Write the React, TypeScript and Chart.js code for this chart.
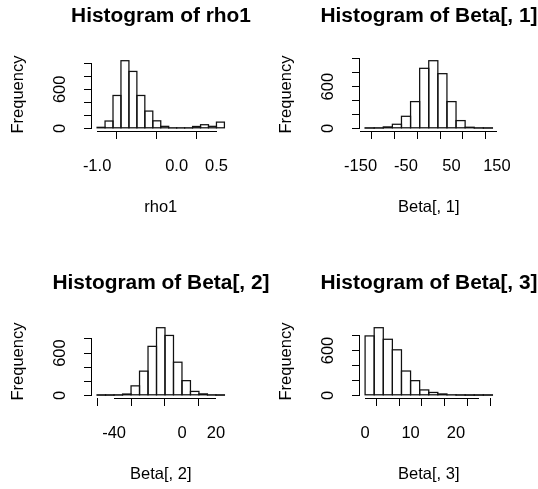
import React, { useEffect, useRef } from 'react';
import { Chart, registerables } from 'chart.js';

Chart.register(...registerables);

const FONT = "'Liberation Sans', Arial, sans-serif";

// ---- Data ----
const rho1Breaks = [-1.0, -0.9, -0.8, -0.7, -0.6, -0.5, -0.4, -0.3, -0.2, -0.1, 0.0, 0.1, 0.2, 0.3, 0.4, 0.5, 0.6];
const rho1Counts = [15, 112, 505, 1040, 875, 505, 265, 115, 30, 5, 5, 5, 28, 55, 30, 95];
const rho1Ticks = [-1.0, -0.5, 0.0, 0.5];
const rho1TickLabels = ['-1.0', '', '0.0', '0.5'];

const beta1Breaks = [-140, -120, -100, -80, -60, -40, -20, 0, 20, 40, 60, 80, 100, 120, 140];
const beta1Counts = [2, 3, 20, 58, 173, 385, 865, 975, 788, 385, 111, 15, 3, 2];
const beta1Ticks = [-150, -100, -50, 0, 50, 100, 150];
const beta1TickLabels = ['-150', '', '-50', '', '50', '', '150'];

const beta2Breaks = [-50, -45, -40, -35, -30, -25, -20, -15, -10, -5, 0, 5, 10, 15, 20, 25];
const beta2Counts = [1, 1, 3, 18, 134, 343, 695, 960, 850, 470, 208, 55, 20, 3, 1];
const beta2Ticks = [-40, -20, 0, 20];
const beta2TickLabels = ['-40', '', '0', '20'];

const beta3Breaks = [0, 2, 4, 6, 8, 10, 12, 14, 16, 18, 20, 22, 24, 26, 28];
const beta3Counts = [795, 905, 750, 609, 325, 196, 72, 38, 18, 5, 2, 1, 1, 1];
const beta3Ticks = [0, 5, 10, 15, 20, 25];
const beta3TickLabels = ['0', '', '10', '', '20', ''];

const freqTicks = [0, 200, 400, 600, 800, 1000];
const freqTickLabels = ['0', '', '', '600', '', ''];

const titles = ['Histogram of rho1', 'Histogram of Beta[, 1]', 'Histogram of Beta[, 2]', 'Histogram of Beta[, 3]'];
const xLabels = ['rho1', 'Beta[, 1]', 'Beta[, 2]', 'Beta[, 3]'];
const yLabel = 'Frequency';

type Spec = {
  breaks: number[];
  counts: number[];
  ticks: number[];
  tickLabels: string[];
  title: string;
  xlabel: string;
};

const specs: Spec[] = [
  { breaks: rho1Breaks, counts: rho1Counts, ticks: rho1Ticks, tickLabels: rho1TickLabels, title: titles[0], xlabel: xLabels[0] },
  { breaks: beta1Breaks, counts: beta1Counts, ticks: beta1Ticks, tickLabels: beta1TickLabels, title: titles[1], xlabel: xLabels[1] },
  { breaks: beta2Breaks, counts: beta2Counts, ticks: beta2Ticks, tickLabels: beta2TickLabels, title: titles[2], xlabel: xLabels[2] },
  { breaks: beta3Breaks, counts: beta3Counts, ticks: beta3Ticks, tickLabels: beta3TickLabels, title: titles[3], xlabel: xLabels[3] },
];

const CW = 322;
const CH = 267;
const INK = '#000';

// R-style outlines: each bar rectangle stroked on its edges (geometry from Chart.js bar elements)
const barOutlines = {
  id: 'barOutlines',
  afterDatasetsDraw(chart: any) {
    const meta = chart.getDatasetMeta(0);
    const ctx = chart.ctx;
    ctx.save();
    ctx.strokeStyle = '#111';
    ctx.lineWidth = 1.25;
    ctx.lineJoin = 'miter';
    for (const el of meta.data) {
      const { x, y, base, width } = el.getProps(['x', 'y', 'base', 'width'], true);
      ctx.strokeRect(x - width / 2, Math.min(y, base), width, Math.abs(base - y));
    }
    ctx.restore();
  },
};

// R-style axis lines: from first to last tick only
const rAxisLines = {
  id: 'rAxisLines',
  afterDraw(chart: any) {
    const { ctx, chartArea } = chart;
    const x = chart.scales.x;
    const y = chart.scales.y;
    ctx.save();
    ctx.strokeStyle = INK;
    ctx.lineWidth = 1;
    ctx.lineCap = 'square';
    ctx.beginPath();
    const xb = Math.round(chartArea.bottom) + 0.5;
    ctx.moveTo(Math.round(x.getPixelForValue(x.ticks[0].value) - 0.5) + 0.5, xb);
    ctx.lineTo(Math.round(x.getPixelForValue(x.ticks[x.ticks.length - 1].value) - 0.5) + 0.5, xb);
    const yl = Math.round(chartArea.left) - 0.5;
    ctx.moveTo(yl, Math.round(y.getPixelForValue(y.ticks[0].value) - 0.5) + 0.5);
    ctx.lineTo(yl, Math.round(y.getPixelForValue(y.ticks[y.ticks.length - 1].value) - 0.5) + 0.5);
    ctx.stroke();
    ctx.restore();
  },
};

function makeConfig(p: Spec): any {
  const data = p.counts.map((c, i) => ({ x: (p.breaks[i] + p.breaks[i + 1]) / 2, y: c }));
  const lo = p.breaks[0];
  const hi = p.breaks[p.breaks.length - 1];
  const ext = 0.04 * (hi - lo);
  const maxC = Math.max(...p.counts);
  const tickFont = { family: FONT, size: 16.5, lineHeight: 1.2 };
  return {
    type: 'bar',
    data: {
      datasets: [
        {
          data,
          backgroundColor: '#ffffff',
          borderWidth: 0,
          barPercentage: 1,
          categoryPercentage: 1,
          inflateAmount: 0,
        },
      ],
    },
    options: {
      responsive: false,
      animation: false,
      events: [],
      layout: { padding: 0 },
      plugins: {
        legend: { display: false },
        tooltip: { enabled: false },
        title: {
          display: true,
          text: p.title,
          color: INK,
          font: { family: FONT, size: 20.9, weight: 'bold', lineHeight: 1.2 },
          padding: { top: 3.5, bottom: 29.42 },
        },
      },
      scales: {
        x: {
          type: 'linear',
          position: 'bottom',
          min: lo - ext,
          max: hi + ext,
          offset: false,
          afterBuildTicks: (s: any) => {
            s.ticks = p.ticks.map((v) => ({ value: v }));
          },
          afterFit: (s: any) => {
            s.height = CH - 131;
          },
          ticks: {
            autoSkip: false,
            minRotation: 0,
            maxRotation: 0,
            padding: 17.1,
            color: INK,
            font: tickFont,
            callback: (v: number) => {
              const i = p.ticks.findIndex((t) => Math.abs(t - v) < 1e-9);
              return i >= 0 ? p.tickLabels[i] : '';
            },
          },
          grid: { display: true, drawOnChartArea: false, drawTicks: true, tickLength: 8, color: INK, lineWidth: 1 },
          border: { display: false },
          title: { display: true, text: p.xlabel, color: INK, font: tickFont, padding: { top: 0, bottom: 49.3 } },
        },
        y: {
          type: 'linear',
          position: 'left',
          min: -0.04 * maxC,
          max: 1.04 * maxC,
          afterBuildTicks: (s: any) => {
            s.ticks = freqTicks.filter((v) => v <= s.max).map((v) => ({ value: v }));
          },
          afterFit: (s: any) => {
            s.width = 92;
          },
          ticks: {
            autoSkip: false,
            minRotation: 90,
            maxRotation: 90,
            crossAlign: 'center',
            padding: 10.25,
            color: INK,
            font: tickFont,
            callback: (v: number) => {
              const i = freqTicks.indexOf(v);
              return i >= 0 ? freqTickLabels[i] : '';
            },
          },
          grid: { display: true, drawOnChartArea: false, drawTicks: true, tickLength: 8, color: INK, lineWidth: 1 },
          border: { display: false },
          title: { display: true, text: yLabel, color: INK, font: tickFont, padding: { top: 8.9, bottom: 0 } },
        },
        yr: {
          type: 'linear',
          position: 'right',
          display: true,
          grid: { display: false },
          ticks: { display: false },
          border: { display: false },
          afterFit: (s: any) => {
            s.width = CW - 229.5;
          },
        },
      },
    },
    plugins: [barOutlines, rAxisLines],
  };
}

function Hist({ spec, left, top }: { spec: Spec; left: number; top: number }) {
  const ref = useRef<HTMLCanvasElement>(null);
  useEffect(() => {
    const chart = new Chart(ref.current as HTMLCanvasElement, makeConfig(spec));
    return () => chart.destroy();
  }, [spec]);
  return (
    <canvas
      ref={ref}
      width={CW}
      height={CH}
      style={{ position: 'absolute', left, top, width: CW, height: CH }}
    />
  );
}

export default function App() {
  return (
    <div
      style={{
        position: 'absolute',
        left: 0,
        top: 0,
        width: 538,
        height: 489,
        overflow: 'hidden',
        background: '#ffffff',
      }}
    >
      <Hist spec={specs[0]} left={0} top={0} />
      <Hist spec={specs[1]} left={268} top={0} />
      <Hist spec={specs[2]} left={0} top={267} />
      <Hist spec={specs[3]} left={268} top={267} />
    </div>
  );
}
